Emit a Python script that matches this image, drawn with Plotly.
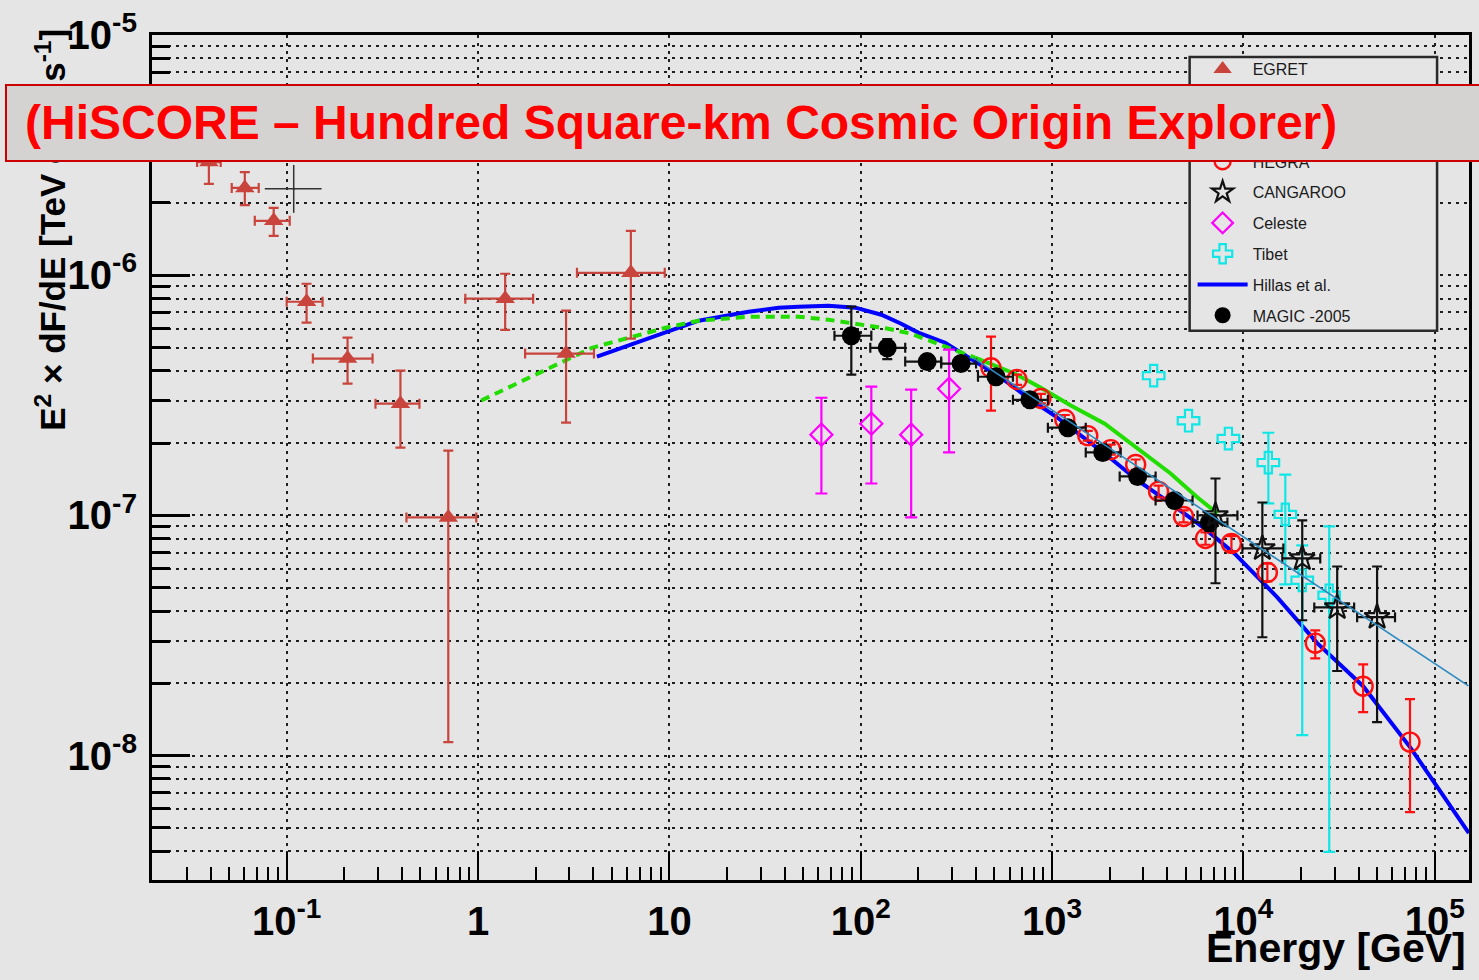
import plotly.graph_objects as go

# ---------------- data (energy in GeV, E^2 dF/dE in TeV cm^-2 s^-1) ----------------
egret_e    = [0.0392, 0.0604, 0.0855, 0.127, 0.208, 0.393, 0.699, 1.386, 2.884, 6.29]
egret_e_lo = [0.0340, 0.0516, 0.0681, 0.100, 0.137, 0.291, 0.4225, 0.858, 1.762, 3.289]
egret_e_hi = [0.0452, 0.0714, 0.1037, 0.154, 0.281, 0.494, 0.979, 1.940, 4.035, 9.46]
egret_f    = [2.96e-6, 2.31e-6, 1.685e-6, 7.76e-7, 4.50e-7, 2.92e-7, 9.81e-8, 7.99e-7, 4.72e-7, 1.024e-6]
egret_f_lo = [2.40e-6, 1.96e-6, 1.460e-6, 6.35e-7, 3.54e-7, 1.917e-7, 1.138e-8, 5.93e-7, 2.436e-7, 5.45e-7]
egret_f_hi = [3.65e-6, 2.69e-6, 1.908e-6, 9.22e-7, 5.50e-7, 4.01e-7, 1.863e-7, 1.015e-6, 7.12e-7, 1.531e-6]

comptel_e    = [0.1088]
comptel_e_lo = [0.0768]
comptel_e_hi = [0.1522]
comptel_f    = [2.29e-6]
comptel_f_lo = [1.82e-6]
comptel_f_hi = [2.88e-6]

magic_e    = [89.3, 137.6, 222.5, 334.6, 509.3, 766, 1209, 1840, 2801, 4369, 6646]
magic_e_lo = [72.9, 112.2, 170.8, 263.3, 410, 624.5, 951, 1500, 2256, 3476, 5423]
magic_e_hi = [113.6, 170.8, 263.3, 400.6, 624.5, 951, 1500, 2284, 3476, 5423, 8252]
magic_f    = [5.60e-7, 4.99e-7, 4.37e-7, 4.29e-7, 3.78e-7, 3.03e-7, 2.32e-7, 1.83e-7, 1.453e-7, 1.154e-7, 9.35e-8]
magic_f_lo = [3.86e-7, 4.48e-7, 4.15e-7, 4.08e-7, 3.60e-7, 2.88e-7, 2.20e-7, 1.73e-7, 1.37e-7, 1.08e-7, 8.6e-8]
magic_f_hi = [7.40e-7, 5.42e-7, 4.60e-7, 4.50e-7, 3.97e-7, 3.18e-7, 2.44e-7, 1.93e-7, 1.54e-7, 1.23e-7, 1.01e-7]

hegra_e    = [479.7, 655.4, 874, 1166, 1537, 2026, 2735, 3604, 4867, 6338, 8658, 13340, 23740, 42240, 74260]
hegra_f    = [4.12e-7, 3.68e-7, 3.07e-7, 2.51e-7, 2.15e-7, 1.88e-7, 1.63e-7, 1.259e-7, 9.90e-8, 8.02e-8,
              7.65e-8, 5.79e-8, 2.94e-8, 1.945e-8, 1.138e-8]
hegra_f_lo = [2.73e-7, 3.50e-7, 2.93e-7, 2.40e-7, 2.05e-7, 1.79e-7, 1.55e-7, 1.19e-7, 9.35e-8, 7.55e-8,
              7.10e-8, 5.31e-8, 2.54e-8, 1.517e-8, 5.82e-9]
hegra_f_hi = [5.55e-7, 3.86e-7, 3.21e-7, 2.62e-7, 2.25e-7, 1.97e-7, 1.71e-7, 1.33e-7, 1.05e-7, 8.50e-8,
              8.20e-8, 6.32e-8, 3.32e-8, 2.40e-8, 1.717e-8]

cangaroo_e    = [7145, 12560, 20300, 30910, 49960]
cangaroo_e_lo = [5757, 9881, 15970, 23460, 39300]
cangaroo_e_hi = [9306, 16170, 25210, 37900, 62000]
cangaroo_f    = [1.0e-7, 7.29e-8, 6.62e-8, 4.14e-8, 3.77e-8]
cangaroo_f_lo = [5.22e-8, 3.11e-8, 3.66e-8, 2.25e-8, 1.378e-8]
cangaroo_f_hi = [1.425e-7, 1.132e-7, 9.53e-8, 6.13e-8, 6.13e-8]

celeste_e    = [62.3, 113.6, 183.5, 289.6]
celeste_f    = [2.17e-7, 2.41e-7, 2.17e-7, 3.37e-7]
celeste_f_lo = [1.234e-7, 1.358e-7, 9.81e-8, 1.83e-7]
celeste_f_hi = [3.09e-7, 3.44e-7, 3.34e-7, 4.90e-7]

tibet_e      = [3395, 5167, 8350]
tibet_f      = [3.82e-7, 2.48e-7, 2.09e-7]
tibet_err_e  = [13500, 16560, 20300, 28080]
tibet_err_f  = [1.66e-7, 1.01e-7, 5.37e-8, 4.65e-8]
tibet_err_lo = [1.122e-7, 5.16e-8, 1.217e-8, 3.97e-9]
tibet_err_hi = [2.21e-7, 1.48e-7, 7.5e-8, 9.0e-8]

hillas_e = [4.18, 14.23, 25.9, 37.2, 47.3, 67.8, 93.7, 128.1, 162.8, 199.7, 276.2, 334.6, 410.3, 541,
            747.6, 1034, 1885, 2801, 4164, 6262, 8979, 15040, 24310, 42240, 74260, 150800]
hillas_f = [4.58e-7, 6.47e-7, 7.05e-7, 7.33e-7, 7.40e-7, 7.47e-7, 7.33e-7, 6.85e-7, 6.28e-7, 5.77e-7,
            5.24e-7, 4.76e-7, 4.33e-7, 3.75e-7, 3.09e-7, 2.60e-7, 1.81e-7, 1.398e-7, 1.122e-7, 8.83e-8,
            6.95e-8, 4.56e-8, 2.94e-8, 1.945e-8, 1.085e-8, 4.76e-9]

ic_dash_e = [1.039, 2.884, 3.94, 9.58, 14.23, 25.9, 47.3, 67.8, 93.7, 139.3, 183.5, 244.8, 311.3, 395.8]
ic_dash_f = [3.01e-7, 4.41e-7, 4.99e-7, 6.05e-7, 6.47e-7, 6.72e-7, 6.72e-7, 6.53e-7, 6.28e-7, 5.99e-7,
             5.71e-7, 5.24e-7, 4.90e-7, 4.54e-7]
ic_solid_e = [395.8, 640, 874, 1253, 1885, 2801, 4164, 5757, 7320]
ic_solid_f = [4.54e-7, 3.89e-7, 3.40e-7, 2.87e-7, 2.41e-7, 1.90e-7, 1.495e-7, 1.188e-7, 1.019e-7]

plaw_e = [386, 150000]
plaw_f = [4.54e-7, 1.95e-8]

x_tickvals = [0.1, 1, 10, 100, 1e3, 1e4, 1e5]
x_ticktext = ["10<sup>-1</sup>", "1", "10", "10<sup>2</sup>", "10<sup>3</sup>", "10<sup>4</sup>", "10<sup>5</sup>"]
y_tickvals = [1e-8, 1e-7, 1e-6, 1e-5]
y_ticktext = ["10<sup>-8</sup>", "10<sup>-7</sup>", "10<sup>-6</sup>", "10<sup>-5</sup>"]

legend_names = ["EGRET", "COMPTEL", "Whipple", "HEGRA", "CANGAROO", "Celeste", "Tibet",
                "Hillas et al.", "MAGIC -2005"]

banner_text = "(HiSCORE \u2013 Hundred Square-km Cosmic Origin Explorer)"
y_title = "E<sup>2</sup> \u00d7 dF/dE [TeV cm<sup>-2</sup> s<sup>-1</sup>]"
x_title = "Energy [GeV]"

# ---------------- layout helpers ----------------
W, H = 1479, 980
L, R, T, B = 152, 1472, 34, 880
def pxx(x):
    return (x - L) / (R - L)
def pyy(y):
    return (B - y) / (B - T)

FONT = "Liberation Sans, Arial, Helvetica, sans-serif"

def err(v, lo, hi, color, thick=2, w=5):
    return dict(type="data", symmetric=False, array=[h - a for a, h in zip(v, hi)],
                arrayminus=[a - l for a, l in zip(v, lo)], color=color, thickness=thick, width=w)

def rank(name):
    return legend_names.index(name) + 1

fig = go.Figure()

RED_E = "#c8443c"
CYAN = "#11e6e6"
fig.add_trace(go.Scatter(x=hillas_e, y=hillas_f, mode="lines", name="Hillas et al.",
                         line=dict(color="#0000ff", width=4),
                         legendgroup="hillas", legendrank=rank("Hillas et al.")))
fig.add_trace(go.Scatter(x=ic_dash_e, y=ic_dash_f, mode="lines", showlegend=False,
                         line=dict(color="#22dd00", width=4, dash="9px,6px")))
fig.add_trace(go.Scatter(x=ic_solid_e, y=ic_solid_f, mode="lines", showlegend=False,
                         line=dict(color="#22dd00", width=4)))
fig.add_trace(go.Scatter(x=egret_e, y=egret_f, mode="markers", name="EGRET",
                         marker=dict(symbol="triangle-up", size=17, color=RED_E),
                         error_x=err(egret_e, egret_e_lo, egret_e_hi, RED_E, 2.2),
                         error_y=err(egret_f, egret_f_lo, egret_f_hi, RED_E, 2.2),
                         legendgroup="egret", legendrank=rank("EGRET")))
fig.add_trace(go.Scatter(x=comptel_e, y=comptel_f, mode="markers", name="COMPTEL",
                         marker=dict(symbol="cross-thin-open", size=2, color="#333333",
                                     line=dict(width=1, color="#333333")),
                         error_x=err(comptel_e, comptel_e_lo, comptel_e_hi, "#333333", 1.5, 0),
                         error_y=err(comptel_f, comptel_f_lo, comptel_f_hi, "#333333", 1.5, 0),
                         legendgroup="comptel", legendrank=rank("COMPTEL")))
fig.add_trace(go.Scatter(x=celeste_e, y=celeste_f, mode="markers", name="Celeste",
                         marker=dict(symbol="diamond-open", size=17, color="#ff00ff",
                                     line=dict(width=2.2, color="#ff00ff")),
                         error_y=err(celeste_f, celeste_f_lo, celeste_f_hi, "#ff00ff", 2.2, 6),
                         legendgroup="celeste", legendrank=rank("Celeste")))
fig.add_trace(go.Scatter(x=tibet_e, y=tibet_f, mode="markers", name="Tibet",
                         marker=dict(symbol="cross-open", size=18, color=CYAN,
                                     line=dict(width=2.2, color=CYAN)),
                         legendgroup="tibet", legendrank=rank("Tibet")))
fig.add_trace(go.Scatter(x=tibet_err_e, y=tibet_err_f, mode="markers", name="Tibet", showlegend=False,
                         marker=dict(symbol="cross-open", size=18, color=CYAN,
                                     line=dict(width=2.2, color=CYAN)),
                         error_y=err(tibet_err_f, tibet_err_lo, tibet_err_hi, CYAN, 2.2, 6),
                         legendgroup="tibet"))
fig.add_trace(go.Scatter(x=hegra_e, y=hegra_f, mode="markers", name="HEGRA",
                         marker=dict(symbol="circle-open", size=19, color="#ff1010",
                                     line=dict(width=2.4, color="#ff1010")),
                         error_y=err(hegra_f, hegra_f_lo, hegra_f_hi, "#ff1010", 2.2, 5),
                         legendgroup="hegra", legendrank=rank("HEGRA")))
fig.add_trace(go.Scatter(x=magic_e, y=magic_f, mode="markers", name="MAGIC -2005",
                         marker=dict(symbol="circle", size=19, color="#000000"),
                         error_x=err(magic_e, magic_e_lo, magic_e_hi, "#111111", 2.2),
                         error_y=err(magic_f, magic_f_lo, magic_f_hi, "#111111", 2.2),
                         legendgroup="magic", legendrank=rank("MAGIC -2005")))
fig.add_trace(go.Scatter(x=cangaroo_e, y=cangaroo_f, mode="markers", name="CANGAROO",
                         marker=dict(symbol="star-open", size=19, color="#111111",
                                     line=dict(width=2.2, color="#111111")),
                         error_x=err(cangaroo_e, cangaroo_e_lo, cangaroo_e_hi, "#111111", 2.2),
                         error_y=err(cangaroo_f, cangaroo_f_lo, cangaroo_f_hi, "#111111", 2.2),
                         legendgroup="cangaroo", legendrank=rank("CANGAROO")))
fig.add_trace(go.Scatter(x=plaw_e, y=plaw_f, mode="lines", name="Whipple",
                         line=dict(color="#2a8ac0", width=1.6),
                         legendgroup="plaw", legendrank=rank("Whipple")))

x_minor = [m * 10.0 ** k for k in range(-2, 6) for m in range(2, 10)]
y_minor = [m * 10.0 ** k for k in range(-9, -5) for m in range(2, 10)]

GRID = dict(showgrid=True, gridcolor="#1e1e1e", gridwidth=1.8, griddash="3px,5px")
TICKFONT = dict(family=FONT, size=40, color="black", weight="bold")

fig.update_layout(
    width=W, height=H, autosize=False,
    margin=dict(l=L, r=W - R, t=T, b=H - B, pad=0),
    paper_bgcolor="#e5e5e5", plot_bgcolor="#e5e5e5",
    font=dict(family=FONT, color="black"),
    xaxis=dict(type="log", range=[-1.704, 5.179], tickmode="array", tickvals=x_tickvals,
               ticktext=x_ticktext, ticks="inside", ticklen=28, tickwidth=2, tickcolor="black",
               showline=True, linewidth=3, linecolor="black", mirror=True, zeroline=False,
               tickfont=TICKFONT, ticklabelstandoff=4,
               minor=dict(tickmode="array", tickvals=x_minor, ticks="inside", ticklen=13,
                          tickwidth=1.5, tickcolor="black", showgrid=False),
               **GRID),
    yaxis=dict(type="log", range=[-8.518, -4.9995], tickmode="array", tickvals=y_tickvals,
               ticktext=y_ticktext, ticks="inside", ticklen=38, tickwidth=3, tickcolor="black",
               showline=True, linewidth=3, linecolor="black", mirror=True, zeroline=False,
               tickfont=TICKFONT, ticklabelstandoff=4,
               minor=dict(tickmode="array", tickvals=y_minor, ticks="inside", ticklen=18,
                          tickwidth=2.5, tickcolor="black", showgrid=True, gridcolor="#1e1e1e",
                          gridwidth=1.8, griddash="3px,5px"),
               **GRID),
    showlegend=True,
    legend=dict(x=pxx(1195), y=pyy(51), xanchor="left", yanchor="top", xref="paper", yref="paper",
                bgcolor="rgba(0,0,0,0)", borderwidth=0, traceorder="grouped", tracegroupgap=7,
                itemwidth=50, font=dict(family=FONT, size=16, color="#1a1a1a")),
    shapes=[dict(type="rect", xref="paper", yref="paper", x0=pxx(1192), x1=pxx(1440),
                 y0=pyy(330), y1=pyy(56), fillcolor="#e5e5e5",
                 line=dict(color="#2a2a2a", width=2.5), layer="above")],
    annotations=[
        dict(text=y_title, xref="paper", yref="paper", x=pxx(50), y=pyy(432), xanchor="center",
             yanchor="bottom", textangle=-90, showarrow=False,
             font=dict(family=FONT, size=35, color="black", weight="bold")),
        dict(text=x_title, xref="paper", yref="paper", x=pxx(1471), y=pyy(948), xanchor="right",
             yanchor="middle", showarrow=False,
             font=dict(family=FONT, size=41, color="black", weight="bold")),
        dict(text=" ", xref="paper", yref="paper", x=pxx(5), y=pyy(83), xanchor="left", yanchor="top",
             width=1490, height=74, bgcolor="#d5d3d1", bordercolor="#cc0000", borderwidth=2,
             borderpad=0, showarrow=False),
        dict(text=banner_text, xref="paper", yref="paper", x=pxx(23), y=pyy(122), xanchor="left",
             yanchor="middle", showarrow=False,
             font=dict(family=FONT, size=48, color="#ff0000", weight="bold")),
    ],
)

fig.write_html("out.html")
